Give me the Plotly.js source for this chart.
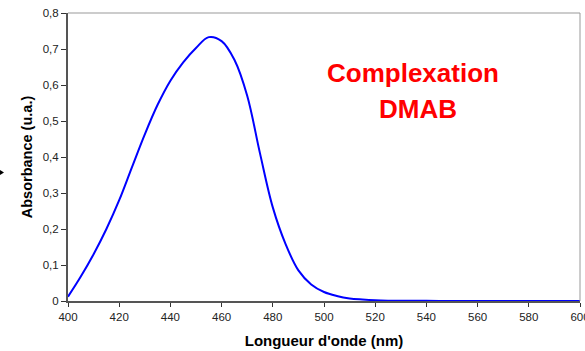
<!DOCTYPE html>
<html>
<head>
<meta charset="utf-8">
<script src="https://cdn.plot.ly/plotly-3.0.1.min.js"></script>
<style>
  html, body { margin: 0; padding: 0; background: #fff; }
  #chart { width: 585px; height: 351px; }
</style>
</head>
<body>
<div id="chart"></div>
<script>
// Absorption spectrum of the DMAB complex
const wavelength = [400, 405, 410, 415, 420, 425, 430, 435, 440, 445, 450, 455, 460, 465, 470, 475, 480, 485, 490, 495, 500, 505, 510, 515, 520, 525, 530, 540, 550, 560, 570, 580, 590, 600];
const absorbance = [0.012, 0.068, 0.130, 0.200, 0.280, 0.372, 0.463, 0.545, 0.612, 0.663, 0.703, 0.733, 0.722, 0.670, 0.570, 0.410, 0.260, 0.158, 0.085, 0.046, 0.025, 0.014, 0.007, 0.004, 0.002, 0.001, 0.0007, 0.0004, 0.0002, 0, 0, 0, 0, 0];

const xTicks = [400, 420, 440, 460, 480, 500, 520, 540, 560, 580, 600];
const yTickVals = [0, 0.1, 0.2, 0.3, 0.4, 0.5, 0.6, 0.7, 0.8];
const yTickText = ['0', '0,1', '0,2', '0,3', '0,4', '0,5', '0,6', '0,7', '0,8'];

const titleX = "Longueur d'onde (nm)";
const titleY = 'Absorbance (u.a.)';
const label1 = 'Complexation';
const label2 = 'DMAB';

const font = 'Arial, "Liberation Sans", Helvetica, sans-serif';

const trace = {
  x: wavelength,
  y: absorbance,
  type: 'scatter',
  mode: 'lines',
  line: { color: '#0000FF', width: 2, shape: 'spline', smoothing: 1 },
  hoverinfo: 'skip'
};

const layout = {
  width: 585,
  height: 351,
  margin: { l: 68, r: 5, t: 13, b: 50 },
  paper_bgcolor: '#ffffff',
  plot_bgcolor: '#ffffff',
  showlegend: false,
  font: { family: font, size: 11.5, color: '#222' },
  xaxis: {
    range: [400, 600],
    tickvals: xTicks,
    ticktext: xTicks.map(String),
    ticks: 'outside',
    ticklen: 4,
    tickwidth: 1,
    tickcolor: '#333',
    ticklabeloverflow: 'allow',
    showgrid: false,
    zeroline: false,
    showline: true,
    linecolor: '#555',
    linewidth: 2,
    tickfont: { family: font, size: 11.5, color: '#222' },
    title: { text: titleX, font: { family: font, size: 15, color: '#000', weight: 'bold' }, standoff: 14 }
  },
  yaxis: {
    range: [0, 0.8],
    tickvals: yTickVals,
    ticktext: yTickText,
    ticks: 'outside',
    ticklen: 5,
    tickwidth: 1,
    tickcolor: '#333',
    showgrid: false,
    zeroline: false,
    showline: true,
    linecolor: '#555',
    linewidth: 2,
    tickfont: { family: font, size: 11.5, color: '#222' },
    title: { text: titleY, font: { family: font, size: 14.5, color: '#000', weight: 'bold' }, standoff: 7 }
  },
  shapes: [
    // thin frame on the top and right sides of the plot area
    { type: 'line', xref: 'paper', yref: 'paper', x0: 0, x1: 1, y0: 1, y1: 1, line: { color: '#999', width: 1 } },
    { type: 'line', xref: 'paper', yref: 'paper', x0: 1, x1: 1, y0: 0, y1: 1, line: { color: '#999', width: 1 } },
    // small arrow head at the far left edge
    { type: 'path', xref: 'paper', yref: 'paper', path: 'M -0.133,0.455 L -0.125,0.446 L -0.133,0.437 Z', fillcolor: '#000', line: { color: '#000', width: 0 } }
  ],
  annotations: [
    { text: label1, xref: 'paper', yref: 'paper', x: 0.6746, y: 0.793, xanchor: 'center', yanchor: 'middle', showarrow: false,
      font: { family: font, size: 26, color: '#FF0000', weight: 'bold' } },
    { text: label2, xref: 'paper', yref: 'paper', x: 0.683, y: 0.667, xanchor: 'center', yanchor: 'middle', showarrow: false,
      font: { family: font, size: 26, color: '#FF0000', weight: 'bold' } }
  ]
};

Plotly.newPlot('chart', [trace], layout, { staticPlot: true, displayModeBar: false });
</script>
</body>
</html>
